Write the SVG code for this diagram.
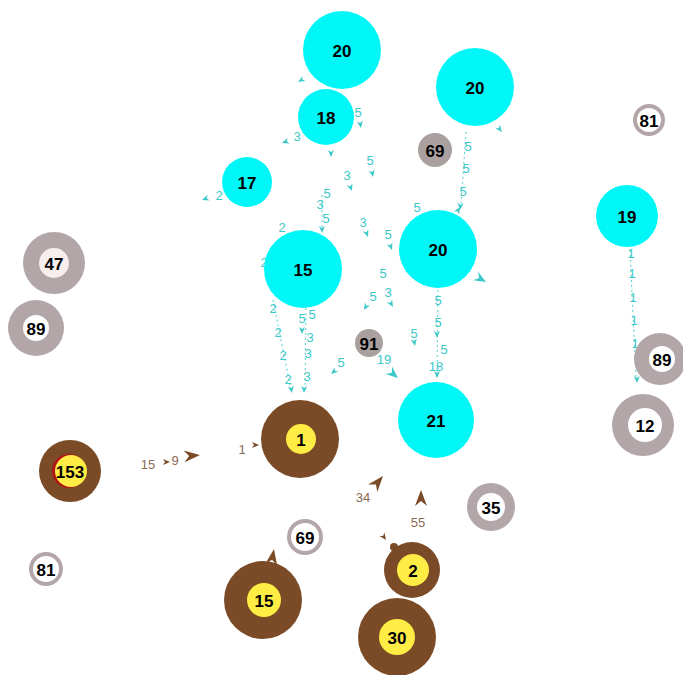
<svg xmlns="http://www.w3.org/2000/svg" width="683" height="675" viewBox="0 0 683 675">
<style>
.cy{fill:#00f7f7}
.br{fill:#7a4b26}
.yl{fill:#ffec45}
.gr{fill:#b3a6a8}
.gs{fill:#aaa0a0}
.wh{fill:#ffffff}
.nl{font-family:"Liberation Sans",Arial,sans-serif;font-weight:bold;font-size:17px;fill:#000;text-anchor:middle;dominant-baseline:central}
.el{font-family:"Liberation Sans",Arial,sans-serif;font-size:13px;fill:#3cc8c8;text-anchor:middle;dominant-baseline:central}
.eb{font-family:"Liberation Sans",Arial,sans-serif;font-size:13px;fill:#8a6a55;text-anchor:middle;dominant-baseline:central}
.dl{stroke:#4cd0d0;stroke-width:1;stroke-dasharray:2,3;fill:none}
.ac{fill:#3cc8c8}
.ab{fill:#7a4b26}
</style>
<defs>
<path id="ah" d="M0,0 L-7,-3 L-5,0 L-7,3 Z"/>
<path id="ahm" d="M0,0 L-12,-5 L-8,0 L-12,5 Z"/>
<path id="ahb" d="M0,0 L-16,-6 L-11,0 L-16,6 Z"/>
</defs>
<g id="connectors">
<line class="dl" x1="273" y1="300" x2="291" y2="390"/>
<line class="dl" x1="306" y1="308" x2="305" y2="390"/>
<line class="dl" x1="466" y1="132" x2="461" y2="205"/>
<line class="dl" x1="438" y1="290" x2="437" y2="378"/>
<line class="dl" x1="630" y1="250" x2="636" y2="378"/>
<line class="dl" x1="322" y1="195" x2="322" y2="228"/>
<g class="ac">
<use href="#ah" transform="translate(292,393) rotate(80)"/>
<use href="#ah" transform="translate(304,393) rotate(92)"/>
<use href="#ah" transform="translate(302,334) rotate(90)"/>
<use href="#ah" transform="translate(460,210) rotate(95)"/>
<use href="#ah" transform="translate(437,338) rotate(90)"/>
<use href="#ah" transform="translate(437,378) rotate(90)"/>
<use href="#ah" transform="translate(637,383) rotate(88)"/>
<use href="#ah" transform="translate(298,82) rotate(150)"/>
<use href="#ah" transform="translate(361,128) rotate(80)"/>
<use href="#ah" transform="translate(282,143) rotate(160)"/>
<use href="#ah" transform="translate(331,157) rotate(90)"/>
<use href="#ah" transform="translate(373,177) rotate(80)"/>
<use href="#ah" transform="translate(352,191) rotate(70)"/>
<use href="#ah" transform="translate(202,200) rotate(160)"/>
<use href="#ah" transform="translate(322,233) rotate(90)"/>
<use href="#ah" transform="translate(368,237) rotate(70)"/>
<use href="#ah" transform="translate(392,250) rotate(70)"/>
<use href="#ah" transform="translate(364,310) rotate(120)"/>
<use href="#ah" transform="translate(393,307) rotate(60)"/>
<use href="#ah" transform="translate(415,346) rotate(80)"/>
<use href="#ah" transform="translate(331,374) rotate(140)"/>
<use href="#ahm" transform="translate(398,378) rotate(40)"/>
<use href="#ah" transform="translate(502,132) rotate(50)"/>
<use href="#ahm" transform="translate(486,282) rotate(30)"/>
<use href="#ah" transform="translate(460,207) rotate(-60)"/>
</g>
<text class="el" x="273" y="308">2</text>
<text class="el" x="278" y="332">2</text>
<text class="el" x="283" y="355">2</text>
<text class="el" x="288" y="379">2</text>
<text class="el" x="302" y="318">5</text>
<text class="el" x="312" y="314">5</text>
<text class="el" x="310" y="337">3</text>
<text class="el" x="308" y="353">3</text>
<text class="el" x="307" y="376">3</text>
<text class="el" x="468" y="146">5</text>
<text class="el" x="466" y="168">5</text>
<text class="el" x="463" y="191">5</text>
<text class="el" x="438" y="300">5</text>
<text class="el" x="438" y="322">5</text>
<text class="el" x="444" y="349">5</text>
<text class="el" x="436" y="366">18</text>
<text class="el" x="631" y="253">1</text>
<text class="el" x="632" y="273">1</text>
<text class="el" x="633" y="297">1</text>
<text class="el" x="634" y="320">1</text>
<text class="el" x="635" y="343">1</text>
<text class="el" x="358" y="112">5</text>
<text class="el" x="297" y="136">3</text>
<text class="el" x="370" y="160">5</text>
<text class="el" x="347" y="175">3</text>
<text class="el" x="219" y="195">2</text>
<text class="el" x="327" y="193">5</text>
<text class="el" x="320" y="204">3</text>
<text class="el" x="326" y="218">5</text>
<text class="el" x="282" y="227">2</text>
<text class="el" x="264" y="262">2</text>
<text class="el" x="363" y="222">3</text>
<text class="el" x="388" y="234">5</text>
<text class="el" x="417" y="207">5</text>
<text class="el" x="383" y="273">5</text>
<text class="el" x="373" y="296">5</text>
<text class="el" x="388" y="292">3</text>
<text class="el" x="414" y="333">5</text>
<text class="el" x="341" y="362">5</text>
<text class="el" x="384" y="359">19</text>
<g class="ab">
<use href="#ah" transform="translate(259,445) rotate(0)"/>
<use href="#ahb" transform="translate(200,455) rotate(-5)"/>
<use href="#ah" transform="translate(170,462) rotate(0)"/>
<use href="#ahb" transform="translate(383,476) rotate(-50)"/>
<use href="#ahb" transform="translate(421,490) rotate(-90)"/>
<use href="#ah" transform="translate(386,540) rotate(55)"/>
<use href="#ahb" transform="translate(274,549) rotate(-80)"/>
</g>
<text class="eb" x="242" y="449">1</text>
<text class="eb" x="148" y="464">15</text>
<text class="eb" x="175" y="460">9</text>
<text class="eb" x="363" y="497">34</text>
<text class="eb" x="418" y="522">55</text>
</g>
<g id="n20a"><circle class="cy" cx="342" cy="50" r="39"/><text class="nl" x="342" y="51">20</text></g>
<g id="n18"><circle class="cy" cx="326" cy="117" r="28"/><text class="nl" x="326" y="118">18</text></g>
<g id="n17"><circle class="cy" cx="247" cy="182" r="25"/><text class="nl" x="247" y="183">17</text></g>
<g id="n20b"><circle class="cy" cx="475" cy="87" r="39"/><text class="nl" x="475" y="88">20</text></g>
<g id="n69a"><circle class="gs" cx="435" cy="150" r="17"/><text class="nl" x="435" y="151">69</text></g>
<g id="n15a"><circle class="cy" cx="303" cy="269" r="39"/><text class="nl" x="303" y="270">15</text></g>
<g id="n20c"><circle class="cy" cx="438" cy="249" r="39"/><text class="nl" x="438" y="250">20</text></g>
<g id="n91"><circle class="gs" cx="369" cy="343" r="14"/><text class="nl" x="369" y="344">91</text></g>
<g id="n21"><circle class="cy" cx="436" cy="420" r="38"/><text class="nl" x="436" y="421">21</text></g>
<g id="n19"><circle class="cy" cx="627" cy="216" r="31"/><text class="nl" x="627" y="217">19</text></g>
<g id="n81a"><circle class="gr" cx="649" cy="120" r="16"/><circle class="wh" cx="649" cy="120" r="12"/><text class="nl" x="649" y="121">81</text></g>
<g id="n89a"><circle class="gr" cx="660" cy="359" r="26"/><circle class="wh" cx="662" cy="359" r="13"/><text class="nl" x="662" y="360">89</text></g>
<g id="n12"><circle class="gr" cx="643" cy="425" r="31"/><circle class="wh" cx="645" cy="425" r="17"/><text class="nl" x="645" y="426">12</text></g>
<g id="n47"><circle class="gr" cx="54" cy="263" r="31"/><circle fill="#f7eeee" cx="54" cy="263" r="15"/><text class="nl" x="54" y="264">47</text></g>
<g id="n89b"><circle class="gr" cx="36" cy="328" r="28"/><circle class="wh" cx="36" cy="328" r="13"/><text class="nl" x="36" y="329">89</text></g>
<g id="n153"><circle class="br" cx="70" cy="471" r="31"/><circle fill="#b01515" cx="69" cy="471" r="17"/><circle class="yl" cx="71" cy="471" r="16"/><text class="nl" x="70" y="472">153</text></g>
<g id="n1"><circle class="br" cx="300" cy="439" r="39"/><circle class="yl" cx="301" cy="439" r="15"/><text class="nl" x="301" y="440">1</text></g>
<g id="n69b"><circle class="gr" cx="305" cy="537" r="18"/><circle class="wh" cx="305" cy="537" r="14"/><text class="nl" x="305" y="538">69</text></g>
<g id="n15b"><circle class="br" cx="263" cy="600" r="39"/><circle class="yl" cx="264" cy="600" r="17"/><text class="nl" x="264" y="601">15</text></g>
<g id="n2"><circle class="br" cx="412" cy="570" r="28"/><circle class="br" cx="394" cy="547" r="4"/><circle class="yl" cx="413" cy="570" r="16"/><text class="nl" x="413" y="571">2</text></g>
<g id="n30"><circle class="br" cx="397" cy="637" r="39"/><circle class="yl" cx="397" cy="637" r="18"/><text class="nl" x="397" y="638">30</text></g>
<g id="n35"><circle class="gr" cx="491" cy="507" r="24"/><circle class="wh" cx="491" cy="507" r="14"/><text class="nl" x="491" y="508">35</text></g>
<g id="n81b"><circle class="gr" cx="46" cy="569" r="17"/><circle class="wh" cx="46" cy="569" r="13"/><text class="nl" x="46" y="570">81</text></g>
</svg>
